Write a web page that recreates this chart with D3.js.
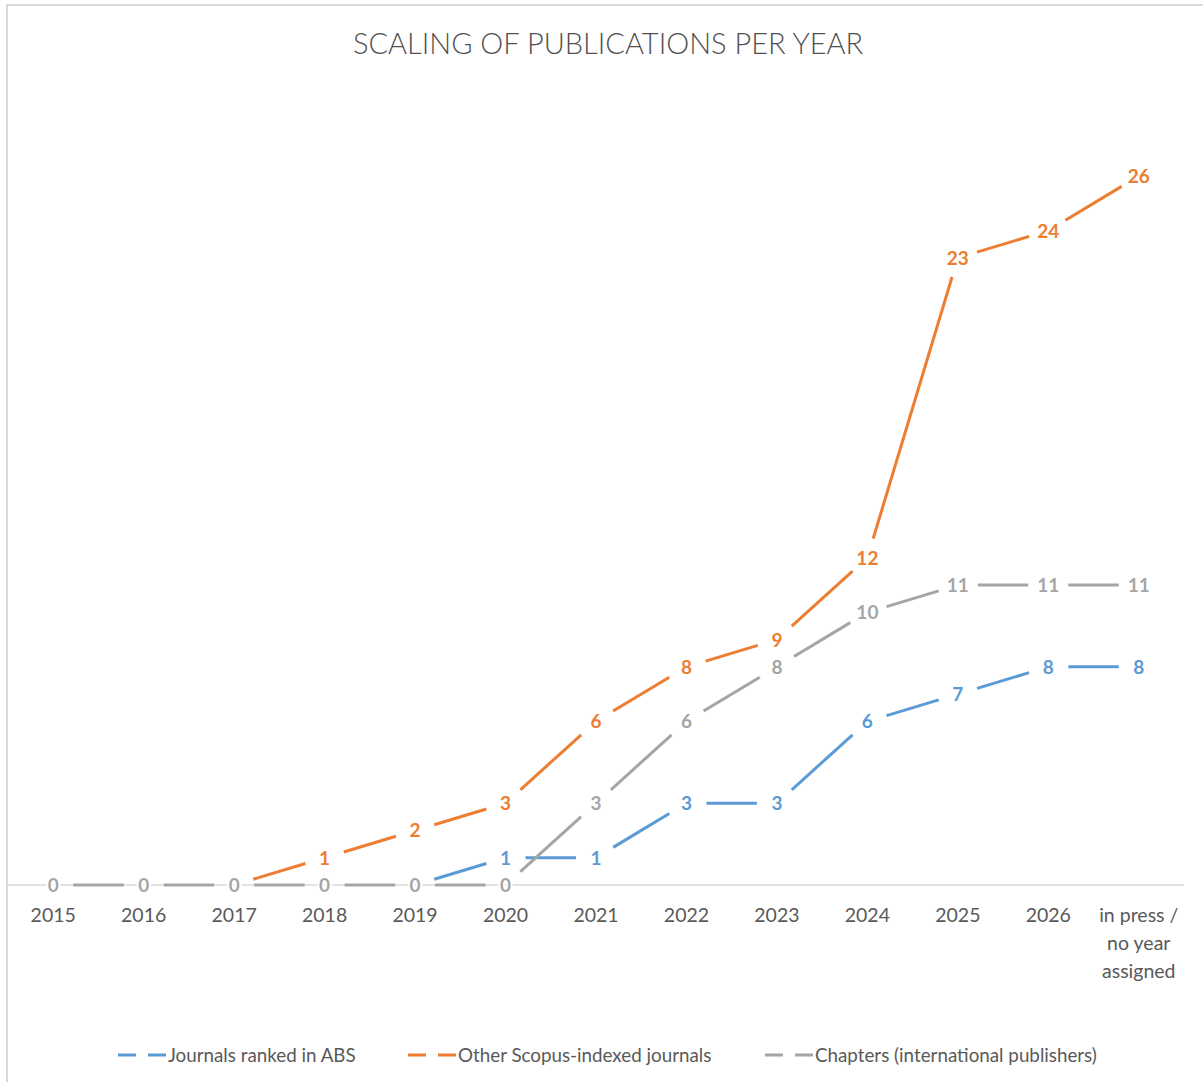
<!DOCTYPE html>
<html>
<head>
<meta charset="utf-8">
<script src="https://cdn.jsdelivr.net/npm/d3@7"></script>
<style>
  body { margin: 0; background: #fff; }
  text { font-family: Lato, "Open Sans", sans-serif; }
</style>
</head>
<body>
<div id="chart"></div>
<script>
// categories and series
const years = ["2015","2016","2017","2018","2019","2020","2021","2022","2023","2024","2025","2026","in press / no year assigned"];
const absJournals   = [0,0,0,0,0,1,1,3,3,6,7,8,8];
const otherScopus   = [0,0,0,1,2,3,6,8,9,12,23,24,26];
const chapters      = [0,0,0,0,0,0,3,6,8,10,11,11,11];
const seriesNames = ["Journals ranked in ABS","Other Scopus-indexed journals","Chapters (international publishers)"];
const seriesColors = ["#5b9bd5","#ed7d31","#a5a5a5"];

const w = 1203, h = 1082;
const series = [absJournals, otherScopus, chapters];

const svg = d3.select("#chart").append("svg")
  .attr("width", w).attr("height", h);

// chart frame (only top/left edges are in view)
svg.append("rect")
  .attr("x", 7).attr("y", 5)
  .attr("width", w + 20).attr("height", h + 20)
  .attr("fill", "none").attr("stroke", "#d9d9d9").attr("stroke-width", 2);

svg.append("text")
  .attr("x", 608).attr("y", 54)
  .attr("text-anchor", "middle")
  .attr("font-size", 29).attr("font-weight", 300)
  .attr("fill", "#505050")
  .text("SCALING OF PUBLICATIONS PER YEAR");

const x = d3.scaleBand().domain(years).range([8, 1184]);
const y = d3.scaleLinear().domain([0, 30]).range([885, 67]);
const cx = d => x(d) + x.bandwidth() / 2;

// x axis line
svg.append("line")
  .attr("x1", 8).attr("x2", 1184)
  .attr("y1", y(0)).attr("y2", y(0))
  .attr("stroke", "#d9d9d9").attr("stroke-width", 1.5);

// tick labels (wrapped like excel)
const wrapLines = { "in press / no year assigned": ["in press /", "no year", "assigned"] };
years.forEach(yr => {
  const lines = wrapLines[yr] || [yr];
  const t = svg.append("text")
    .attr("text-anchor", "middle")
    .attr("font-size", 19.5)
    .attr("fill", "#595959");
  lines.forEach((ln, i) => {
    t.append("tspan").attr("x", cx(yr)).attr("y", 922 + i * 28).text(ln);
  });
});

// lines, broken around each data label; a segment hidden under a later series is skipped
const gap = 20;
series.forEach((vals, s) => {
  const pts = vals.map((v, i) => [cx(years[i]), y(v)]);
  const segs = [];
  for (let i = 0; i < pts.length - 1; i++) {
    const covered = series.slice(s + 1).some(o => o[i] === vals[i] && o[i + 1] === vals[i + 1]);
    if (covered) continue;
    const [x1, y1] = pts[i], [x2, y2] = pts[i + 1];
    const len = Math.hypot(x2 - x1, y2 - y1);
    if (len <= 2 * gap) continue;
    const ux = (x2 - x1) / len, uy = (y2 - y1) / len;
    segs.push([x1 + ux * gap, y1 + uy * gap, x2 - ux * gap, y2 - uy * gap]);
  }
  svg.append("g").selectAll("line")
    .data(segs).enter().append("line")
    .attr("x1", d => d[0]).attr("y1", d => d[1])
    .attr("x2", d => d[2]).attr("y2", d => d[3])
    .attr("stroke", seriesColors[s])
    .attr("stroke-width", 3);
});

// data labels (a label sitting under a later series' identical label is skipped)
series.forEach((vals, s) => {
  const idx = vals.map((v, i) => i)
    .filter(i => !series.slice(s + 1).some(o => o[i] === vals[i]));
  svg.append("g").selectAll("text")
    .data(idx).enter().append("text")
    .attr("x", i => cx(years[i]))
    .attr("y", i => y(vals[i]) + 7)
    .attr("text-anchor", "middle")
    .attr("font-size", 19).attr("font-weight", 700)
    .attr("fill", seriesColors[s])
    .attr("stroke", "#fff").attr("stroke-width", 4)
    .attr("paint-order", "stroke")
    .text(i => vals[i]);
});

// legend
const legX = [118, 408, 765];
seriesNames.forEach((name, s) => {
  const g = svg.append("g").attr("transform", "translate(" + legX[s] + ",1055)");
  g.append("line").attr("x1", 0).attr("x2", 18).attr("stroke", seriesColors[s]).attr("stroke-width", 3);
  g.append("line").attr("x1", 30).attr("x2", 48).attr("stroke", seriesColors[s]).attr("stroke-width", 3);
  g.append("text").attr("x", 50).attr("y", 6.5)
    .attr("font-size", 18.8).attr("fill", "#595959")
    .text(name);
});
</script>
</body>
</html>
